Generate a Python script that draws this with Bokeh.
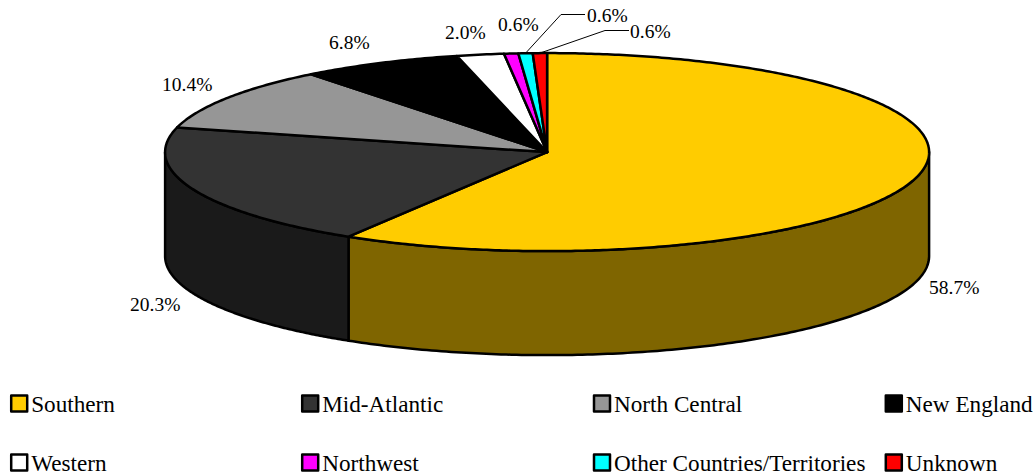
import numpy as np
from bokeh.plotting import figure
from bokeh.models import Range1d
from bokeh.embed import file_html
from bokeh.resources import INLINE
from bokeh.core.properties import value

categories = ["Southern", "Mid-Atlantic", "North Central", "New England",
              "Western", "Northwest", "Other Countries/Territories", "Unknown"]
shares = [58.7, 20.3, 10.4, 6.8, 2.0, 0.6, 0.6, 0.6]
top_colors = ["#FFCC00", "#333333", "#969696", "#000000",
              "#FFFFFF", "#FF00FF", "#00FFFF", "#FF0000"]
side_colors = ["#7F6500", "#1A1A1A", "#4B4B4B", "#000000",
               "#7F7F7F", "#7F007F", "#007F7F", "#7F0000"]
share_labels = ["58.7%", "20.3%", "10.4%", "6.8%", "2.0%", "0.6%", "0.6%", "0.6%"]

# layout
CX, CY, RX, RY, DEPTH = 546.6, 151.6, 382.0, 99.0, 104.0
label_x = [928.5, 129.5, 161.5, 328.5, 444.5, 497.5, 586.5, 629.5]
label_y = [287, 304, 84, 42, 32, 24, 15, 31]
legend_cols = [10.7, 301.7, 593.5, 885.3]
legend_rows = [403, 462]
LINE = "#000000"
FONT = "Liberation Serif"

p = figure(width=1035, height=476, output_backend="svg", toolbar_location=None,
           x_range=Range1d(0, 1035), y_range=Range1d(476, 0),
           min_border=0, outline_line_color=None, background_fill_color="#FFFFFF",
           border_fill_color="#FFFFFF")
p.axis.visible = False
p.grid.visible = False


def ell(t, dy=0.0):
    return CX + RX * np.sin(t), CY + dy - RY * np.cos(t)


cum = np.concatenate([[0.0], np.cumsum(shares)])
cum = cum / cum[-1] * 2 * np.pi

# rim: only the part of each slice facing the viewer
for i in range(len(shares)):
    a, b = max(cum[i], np.pi / 2), min(cum[i + 1], 3 * np.pi / 2)
    if b <= a:
        continue
    t = np.linspace(a, b, 160)
    x1, y1 = ell(t)
    x2, y2 = ell(t[::-1], DEPTH)
    p.patch(np.r_[x1, x2], np.r_[y1, y2], fill_color=side_colors[i],
            line_color=LINE, line_width=2.5, line_join="round")

# top faces
for i in range(len(shares)):
    t = np.linspace(cum[i], cum[i + 1], max(6, int(600 * shares[i] / 100)))
    x, y = ell(t)
    p.patch(np.r_[CX, x], np.r_[CY, y], fill_color=top_colors[i],
            line_color=LINE, line_width=2.5, line_join="round")

# leader lines of the two outer labels
for i, (kx, ex) in {6: (560.5, 584.5), 7: (604.5, 628.5)}.items():
    mid = (cum[i] + cum[i + 1]) / 2
    sx, sy = ell(mid)
    ly = label_y[i] - 1
    p.line([sx, kx, ex], [sy, ly, ly], line_color=LINE, line_width=1)

# share labels
p.text(label_x, label_y, text=share_labels, text_font=value(FONT),
       text_font_size="19.5px", text_color="#000000",
       text_align="left", text_baseline="middle")

# legend
n = len(categories)
lx = [legend_cols[i % 4] for i in range(n)]
ly = [legend_rows[i // 4] for i in range(n)]
p.quad(left=lx, right=[v + 16 for v in lx], top=[v - 8 for v in ly],
       bottom=[v + 8 for v in ly], fill_color=top_colors, line_color=LINE,
       line_width=2.5, line_join="round")
p.text([v + 20 for v in lx], ly, text=categories, text_font=value(FONT),
       text_font_size="23.2px", text_color="#000000", text_align="left",
       text_baseline="middle")

open("out.html", "w").write(file_html(p, INLINE))
